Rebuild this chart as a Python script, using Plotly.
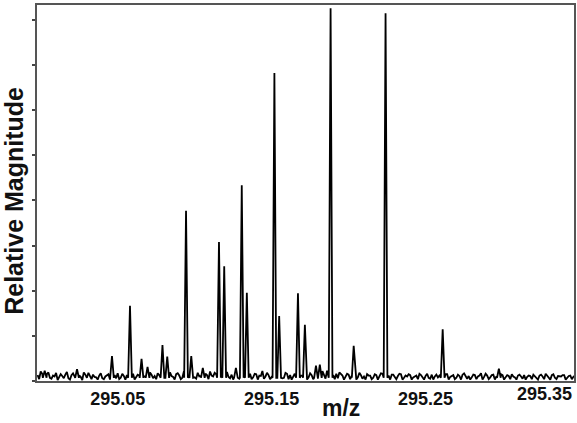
import numpy as np
import plotly.graph_objects as go

# ---- data ----
peak_mz = [295.0463, 295.0580, 295.0655, 295.0694, 295.0791, 295.0822, 295.0944, 295.0978,
           295.1053, 295.1158, 295.1192, 295.1268, 295.1306, 295.1339, 295.1518, 295.1549,
           295.1671, 295.1716, 295.1788, 295.1813, 295.1883, 295.2033, 295.2240, 295.2611,
           295.2976, 295.0026, 295.0236]
peak_height = [0.54, 1.66, 0.48, 0.30, 0.79, 0.53, 3.77, 0.54,
               0.28, 3.08, 2.54, 0.28, 4.34, 1.95, 6.83, 1.43,
               1.94, 1.24, 0.33, 0.35, 8.27, 0.77, 8.16, 1.14,
               0.26, 0.22, 0.25]

baseline_start = 294.998
baseline_step = 0.002
# baseline noise on the main grid
baseline = [
    0.12, 0.20, 0.08, 0.14, 0.06, 0.11, 0.17, 0.07, 0.10, 0.13,
    0.05, 0.12, 0.09, 0.15, 0.08, 0.18, 0.06, 0.10, 0.13, 0.07,
    0.11, 0.05, 0.09, 0.14, 0.08, 0.12, 0.16, 0.06, 0.10, 0.12,
    0.08, 0.15, 0.07, 0.11, 0.19, 0.09, 0.06, 0.13, 0.10, 0.16,
    0.07, 0.12, 0.09, 0.18, 0.08, 0.14, 0.11, 0.06, 0.15, 0.09,
    0.13, 0.07, 0.17, 0.10, 0.08, 0.12, 0.20, 0.09, 0.14, 0.07,
    0.11, 0.16, 0.08, 0.13, 0.06, 0.18, 0.10, 0.12, 0.09, 0.15,
    0.07, 0.14, 0.11, 0.21, 0.09, 0.12, 0.08, 0.16, 0.10, 0.13,
    0.06, 0.15, 0.12, 0.09, 0.19, 0.08, 0.11, 0.14, 0.07, 0.12,
    0.10, 0.17, 0.08, 0.13, 0.22, 0.09, 0.12, 0.15, 0.18, 0.11,
    0.08, 0.13, 0.10, 0.16, 0.07, 0.12, 0.09, 0.14, 0.11, 0.06,
    0.12, 0.09, 0.15, 0.07, 0.11, 0.13, 0.08, 0.10, 0.14, 0.06,
    0.09, 0.12, 0.07, 0.11, 0.15, 0.08, 0.10, 0.06, 0.13, 0.09,
    0.07, 0.11, 0.09, 0.14, 0.08, 0.12, 0.06, 0.10, 0.13, 0.08,
    0.10, 0.07, 0.12, 0.09, 0.16, 0.08, 0.11, 0.07, 0.13, 0.09,
    0.06, 0.12, 0.08, 0.10, 0.14, 0.07, 0.11, 0.09, 0.12, 0.08,
    0.10, 0.13, 0.07, 0.11, 0.09, 0.15, 0.08, 0.12, 0.06, 0.10,
    0.09, 0.12, 0.07, 0.11, 0.08,
]
# baseline noise at the half-step points in between
baseline_mid = [
    0.03, 0.15, 0.02, 0.18, 0.04, 0.09, 0.01, 0.14, 0.05, 0.19,
    0.02, 0.16, 0.04, 0.11, 0.01, 0.13, 0.17, 0.03, 0.08, 0.02,
    0.16, 0.03, 0.12, 0.02, 0.19, 0.05, 0.03, 0.15, 0.02, 0.10,
    0.17, 0.02, 0.13, 0.04, 0.09, 0.02, 0.18, 0.05, 0.03, 0.12,
    0.02, 0.17, 0.04, 0.10, 0.02, 0.16, 0.03, 0.20, 0.05, 0.02,
    0.18, 0.04, 0.09, 0.02, 0.15, 0.03, 0.11, 0.17, 0.02, 0.14,
    0.03, 0.19, 0.05, 0.02, 0.16, 0.04, 0.13, 0.02, 0.18, 0.03,
    0.15, 0.02, 0.10, 0.04, 0.17, 0.03, 0.20, 0.02, 0.12, 0.05,
    0.17, 0.03, 0.02, 0.15, 0.04, 0.11, 0.19, 0.02, 0.16, 0.03,
    0.13, 0.02, 0.21, 0.04, 0.10, 0.16, 0.03, 0.05, 0.14, 0.02,
    0.15, 0.03, 0.12, 0.02, 0.17, 0.04, 0.02, 0.11, 0.03, 0.14,
    0.02, 0.16, 0.04, 0.10, 0.02, 0.13, 0.03, 0.15, 0.02, 0.11,
    0.14, 0.02, 0.10, 0.03, 0.12, 0.02, 0.15, 0.04, 0.02, 0.13,
    0.11, 0.03, 0.14, 0.02, 0.10, 0.03, 0.13, 0.02, 0.16, 0.04,
    0.02, 0.13, 0.03, 0.11, 0.02, 0.15, 0.03, 0.12, 0.02, 0.10,
    0.14, 0.02, 0.12, 0.03, 0.09, 0.02, 0.13, 0.04, 0.02, 0.11,
    0.03, 0.10, 0.02, 0.13, 0.03, 0.11, 0.02, 0.14, 0.03, 0.09,
    0.12, 0.02, 0.10, 0.03, 0.11,
]

tick_vals = [295.05, 295.15, 295.25]
tick_text = ["295.05", "295.15", "295.25"]
last_tick_label = "295.35"

# ---- build spectrum line ----
half_w = 0.0012
idx = np.arange(len(baseline))
base_mz = list(baseline_start + baseline_step * idx) + list(baseline_start + baseline_step * (idx + 0.5))
base_val = list(baseline) + list(baseline_mid)
pts = []
for m, b in zip(base_mz, base_val):
    if all(abs(m - p) > half_w for p in peak_mz):
        pts.append((m, b))
for p, h in zip(peak_mz, peak_height):
    pts.append((p - half_w, 0.06))
    pts.append((p, h))
    pts.append((p + half_w, 0.06))
pts.sort()
xs = [p[0] for p in pts]
ys = [p[1] for p in pts]

fig = go.Figure()
fig.add_trace(go.Scatter(x=xs, y=ys, mode="lines",
                         line=dict(color="black", width=1.8), hoverinfo="skip"))

font_family = "Liberation Sans, Arial, sans-serif"
fig.update_layout(
    width=577, height=423,
    margin=dict(l=37, r=1, t=5, b=42),
    paper_bgcolor="white", plot_bgcolor="white",
    showlegend=False,
    font=dict(family=font_family, color="#111"),
)
fig.update_xaxes(
    range=[294.9976, 295.3464],
    tickvals=tick_vals, ticktext=tick_text,
    tickfont=dict(size=18, weight="bold", family=font_family, color="#111"),
    ticks="", showgrid=False, zeroline=False,
    showline=True, mirror=True, linecolor="#555", linewidth=2,
)
fig.update_yaxes(
    range=[-0.011, 8.344], dtick=1, tick0=0,
    showticklabels=False, ticks="outside", ticklen=3, tickwidth=1.5, tickcolor="#444",
    showgrid=False, zeroline=False,
    showline=True, mirror=True, linecolor="#555", linewidth=2,
)
fig.add_annotation(text=last_tick_label, xref="paper", yref="paper", x=1.0, y=-0.035,
                   xanchor="right", yanchor="middle", showarrow=False,
                   font=dict(size=18, weight="bold", family=font_family, color="#111"))
fig.add_annotation(text="m/z", xref="paper", yref="paper", x=0.566, y=-0.109,
                   xanchor="center", yanchor="bottom", showarrow=False, borderpad=0,
                   font=dict(size=23, weight="bold", family=font_family, color="#111"))
fig.add_annotation(text="Relative Magnitude", xref="paper", yref="paper", x=-0.043, y=0.479,
                   xanchor="center", yanchor="middle", textangle=-90, showarrow=False,
                   font=dict(size=25, weight="bold", family=font_family, color="#111"))

fig.write_html("out.html")
